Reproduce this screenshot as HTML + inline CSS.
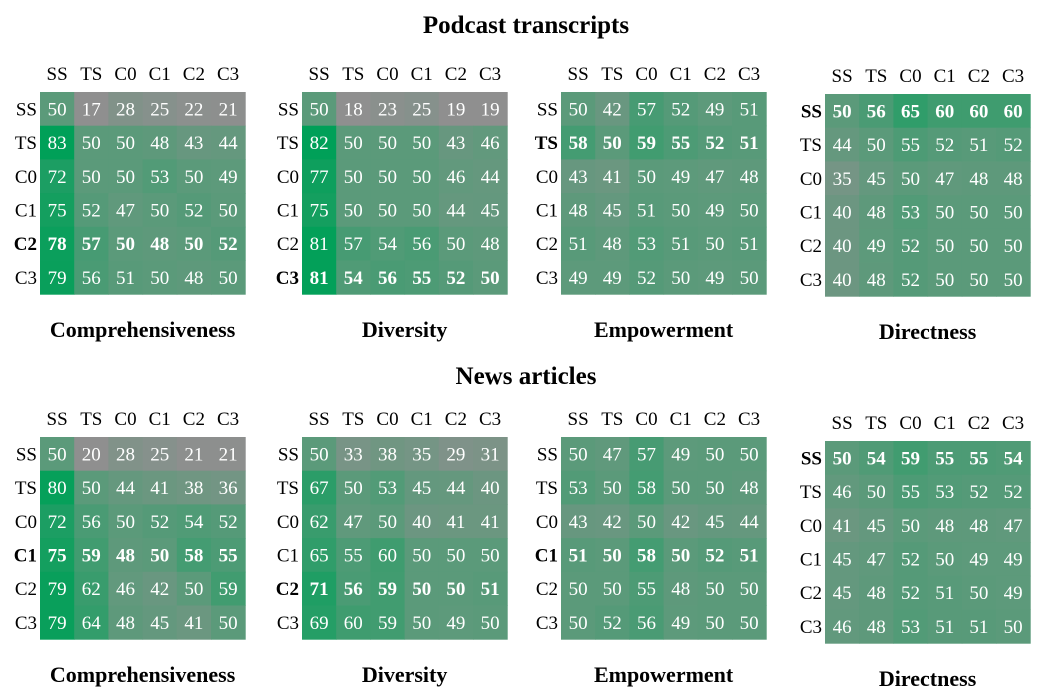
<!DOCTYPE html>
<html><head><meta charset="utf-8"><style>
body{margin:0;background:#fff;}
svg{display:block;font-family:"Liberation Serif",serif;}
</style></head><body>
<svg id="chart" width="1052" height="697">
<text x="526" y="33" text-anchor="middle" font-size="25" font-weight="bold">Podcast transcripts</text>
<text x="526" y="384" text-anchor="middle" font-size="25" font-weight="bold">News articles</text>
</svg>
<script>
const labels = ["SS","TS","C0","C1","C2","C3"];
const titles = ["Comprehensiveness","Diversity","Empowerment","Directness"];
const podComp = [[50,17,28,25,22,21],[83,50,50,48,43,44],[72,50,50,53,50,49],[75,52,47,50,52,50],[78,57,50,48,50,52],[79,56,51,50,48,50]];
const podDiv = [[50,18,23,25,19,19],[82,50,50,50,43,46],[77,50,50,50,46,44],[75,50,50,50,44,45],[81,57,54,56,50,48],[81,54,56,55,52,50]];
const podEmp = [[50,42,57,52,49,51],[58,50,59,55,52,51],[43,41,50,49,47,48],[48,45,51,50,49,50],[51,48,53,51,50,51],[49,49,52,50,49,50]];
const podDir = [[50,56,65,60,60,60],[44,50,55,52,51,52],[35,45,50,47,48,48],[40,48,53,50,50,50],[40,49,52,50,50,50],[40,48,52,50,50,50]];
const newsComp = [[50,20,28,25,21,21],[80,50,44,41,38,36],[72,56,50,52,54,52],[75,59,48,50,58,55],[79,62,46,42,50,59],[79,64,48,45,41,50]];
const newsDiv = [[50,33,38,35,29,31],[67,50,53,45,44,40],[62,47,50,40,41,41],[65,55,60,50,50,50],[71,56,59,50,50,51],[69,60,59,50,49,50]];
const newsEmp = [[50,47,57,49,50,50],[53,50,58,50,50,48],[43,42,50,42,45,44],[51,50,58,50,52,51],[50,50,55,48,50,50],[50,52,56,49,50,50]];
const newsDir = [[50,54,59,55,55,54],[46,50,55,53,52,52],[41,45,50,48,48,47],[45,47,52,50,49,49],[45,48,52,51,50,49],[46,48,53,51,51,50]];
const podBold = [4,5,1,0];
const newsBold = [3,4,3,0];

const svg=document.getElementById('chart');
const NS='http://www.w3.org/2000/svg';
function lerp(a,b,t){return a.map((v,i)=>Math.round(v+(b[i]-v)*t));}
function color(v){
  const lo=[143,143,143], mid=[91,154,122], hi=[0,160,88];
  if(v<=50){const t=Math.max(0,Math.min(1,(v-20)/30));return 'rgb('+lerp(lo,mid,t).join(',')+')';}
  const t=Math.max(0,Math.min(1,(v-50)/32));return 'rgb('+lerp(mid,hi,t).join(',')+')';
}
const panelX=[40,302,561,825];
const cw=34.2, ch=33.7;
function panel(data,pi,top,bold,section,dy){
  const x0=panelX[pi], y0=top+dy;
  const g=document.createElementNS(NS,'g');
  
  
  svg.appendChild(g);
  labels.forEach((l,j)=>{
    const t=document.createElementNS(NS,'text');
    t.setAttribute('x',x0+cw*j+cw/2);t.setAttribute('y',y0-12);
    t.setAttribute('text-anchor','middle');t.setAttribute('font-size','19');
    t.textContent=l;
    
    
    g.appendChild(t);
  });
  data.forEach((row,i)=>{
    const t=document.createElementNS(NS,'text');
    t.setAttribute('x',x0-3);t.setAttribute('y',y0+ch*i+ch/2+6.5);
    t.setAttribute('text-anchor','end');t.setAttribute('font-size','19');
    if(i===bold)t.setAttribute('font-weight','bold');
    t.textContent=labels[i];
    
    
    g.appendChild(t);
    row.forEach((v,j)=>{
      const r=document.createElementNS(NS,'rect');
      r.setAttribute('x',x0+cw*j);r.setAttribute('y',y0+ch*i);
      r.setAttribute('width',cw+0.5);r.setAttribute('height',ch+0.5);
      r.setAttribute('fill',color(v));
      
      
      g.appendChild(r);
      const n=document.createElementNS(NS,'text');
      n.setAttribute('x',x0+cw*j+cw/2);n.setAttribute('y',y0+ch*i+ch/2+6.5);
      n.setAttribute('text-anchor','middle');n.setAttribute('font-size','19');
      n.setAttribute('fill','#fff');
      if(i===bold)n.setAttribute('font-weight','bold');
      n.textContent=v;
      
      
      g.appendChild(n);
    });
  });
  const s=document.createElementNS(NS,'text');
  s.setAttribute('x',x0+cw*3);s.setAttribute('y',y0+6*ch+43);
  s.setAttribute('text-anchor','middle');s.setAttribute('font-size','22');s.setAttribute('font-weight','bold');
  s.textContent=titles[pi];
  
  
  g.appendChild(s);
}
[podComp,podDiv,podEmp,podDir].forEach((d,i)=>panel(d,i,92,podBold[i],'podcast',i===3?2:0));
[newsComp,newsDiv,newsEmp,newsDir].forEach((d,i)=>panel(d,i,437,newsBold[i],'news',i===3?4:0));
</script>
</body></html>
